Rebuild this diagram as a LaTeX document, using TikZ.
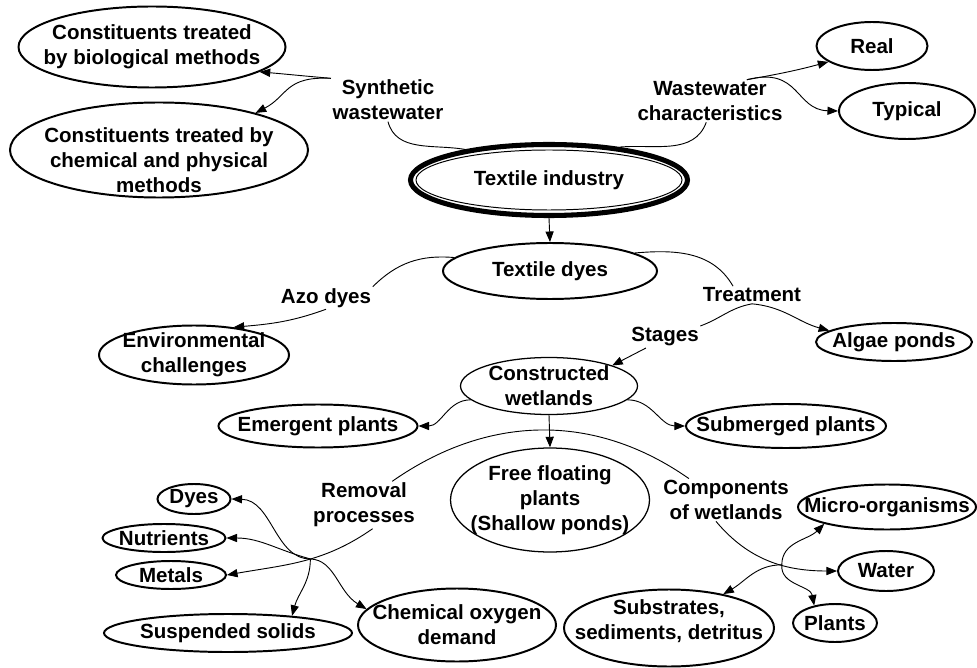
\documentclass[tikz,border=0pt]{standalone}
\usepackage{fontspec}
\setmainfont{Liberation Sans}
\usetikzlibrary{arrows.meta,shapes.geometric}

\begin{document}
\begin{tikzpicture}[x=0.025cm, y=0.025cm,
  font=\fontsize{14.6}{17.7}\selectfont\bfseries,
  lbl/.style={align=center, inner sep=1pt},
  ell/.style n args={3}{ellipse, draw, line width=1.4pt, inner sep=0pt,
    minimum width=#1*0.025cm, minimum height=#2*0.025cm, label={[lbl]center:{#3}}},
  arr/.style={line width=0.65pt, -{Triangle[length=7.5pt,width=5.8pt]}},
  con/.style={line width=0.65pt}]
\useasboundingbox (0,0) rectangle (977,-668);

\node[ell={267}{81}{Constituents treated\\by biological methods}] (bio) at (152,-47) {};
\node[ell={298}{95}{}] (chem) at (159,-150) {};
\node[lbl] (chemt) at (159,-160) {Constituents treated by\\chemical and physical\\methods};
\node[lbl] (synth) at (388,-100) {Synthetic\\wastewater};
\node[lbl] (wc) at (710,-101) {Wastewater\\characteristics};
\node[ellipse, draw, line width=3.6pt, inner sep=0pt, minimum width=277*0.025cm,
  minimum height=71*0.025cm, label={[lbl]center:Textile industry}] (ind) at (549,-180) {};
\node[ellipse, draw, line width=0.7pt, minimum width=266*0.025cm,
  minimum height=60*0.025cm] (indin) at (549,-180) {};
\node[ell={214}{56}{Textile dyes}] (dyes) at (550,-271) {};
\node[lbl] (azo) at (326,-298) {Azo dyes};
\node[ell={190}{59}{Environmental\\challenges}] (env) at (194,-355) {};
\node[lbl] (tr) at (752,-295) {Treatment};
\node[lbl] (st) at (665,-337) {Stages};
\node[ell={177}{57}{Constructed\\wetlands}, line width=0.9pt] (cw) at (549,-386) {};
\node[ell={199}{104}{Free floating\\plants\\(Shallow ponds)}, line width=0.9pt] (ff) at (550,-500) {};
\node[lbl] (rem) at (364,-505) {Removal\\processes};
\node[lbl] (comp) at (726,-500) {Components\\of wetlands};
\node[ell={198}{73}{Chemical oxygen\\demand}] (cod) at (457,-625) {};
\node[ell={210}{77}{}] (subs) at (669,-628) {};
\node[lbl] (subst) at (669,-621) {Substrates,\\sediments, detritus};
\foreach \n/\x/\y/\w/\h/\t in {real/872/46/111/48/Real, typ/907/111/136/56/Typical,
  algae/894/342/156/38/Algae ponds, em/318/426/199/43/Emergent plants,
  sub/786/426/200/44/Submerged plants, dy/194/499/73/30/Dyes,
  nut/164/538/123/28/Nutrients, met/171/575/110/28/Metals,
  ss/228/633/248/38/Suspended solids, mic/887/507/178/45/Micro-organisms,
  wat/886/571/96/40/Water, pl/835/623/84/38/Plants}
  \node[ell={\w}{\h}{\t}] (\n) at (\x,-\y) {};

\draw[arr] (synth.north west) to[out=175,in=-5] (bio.-13);
\draw[arr] (synth.north west) .. controls (285,-76) and (288,-96) .. (chem.21);
\draw[con] (synth.south) to[out=-75,in=170] (ind.160);
\draw[arr] (wc.30) to[out=10,in=195] (real.200);
\draw[arr] (wc.30) .. controls (800,-66) and (795,-110) .. (typ.west);
\draw[con] (wc.-100) to[out=-110,in=5] (ind.25);
\draw[arr] (ind.south) -- (dyes.north);
\draw[con] (dyes.172) to[out=175,in=45] (azo.north east);
\draw[arr] (azo.south) to[out=-160,in=5] (env.35);
\draw[con] (dyes.12) to[out=5,in=120] (tr.155);
\draw[arr] (tr.south) to[out=-5,in=165] (algae.170);
\draw[con] (tr.south) to[out=190,in=20] (st.north east);
\draw[arr] (st.-150) -- (cw.18);
\draw[arr] (cw.-170) to[out=180,in=0] (em.east);
\draw[arr] (cw.-10) to[out=0,in=180] (sub.west);
\draw[arr] (cw.south) -- (ff.north);
\draw[con] (rem.40) to[out=35,in=145] (comp.150);
\draw[arr] (rem.-70) to[out=-145,in=10] coordinate[pos=0.45] (rj) (met.east);
\draw[arr] (rj) .. controls (275,-559) and (272,-500) .. (dy.east);
\draw[arr] (rj) to[out=165,in=0] (nut.east);
\draw[arr] (rj) to[out=-90,in=75] (ss.15);
\draw[arr] (rj) .. controls (335,-560) and (338,-592) .. (cod.170);
\draw[arr] (comp.-115) to[out=-50,in=180] coordinate[pos=0.6] (cb) (wat.west);
\draw[arr] (cb) to[out=90,in=-135] (mic.-165);
\draw[arr] (cb) to[out=-95,in=100] (pl.140);
\draw[arr] (cb) to[out=180,in=30] (subs.32);
\end{tikzpicture}
\end{document}
